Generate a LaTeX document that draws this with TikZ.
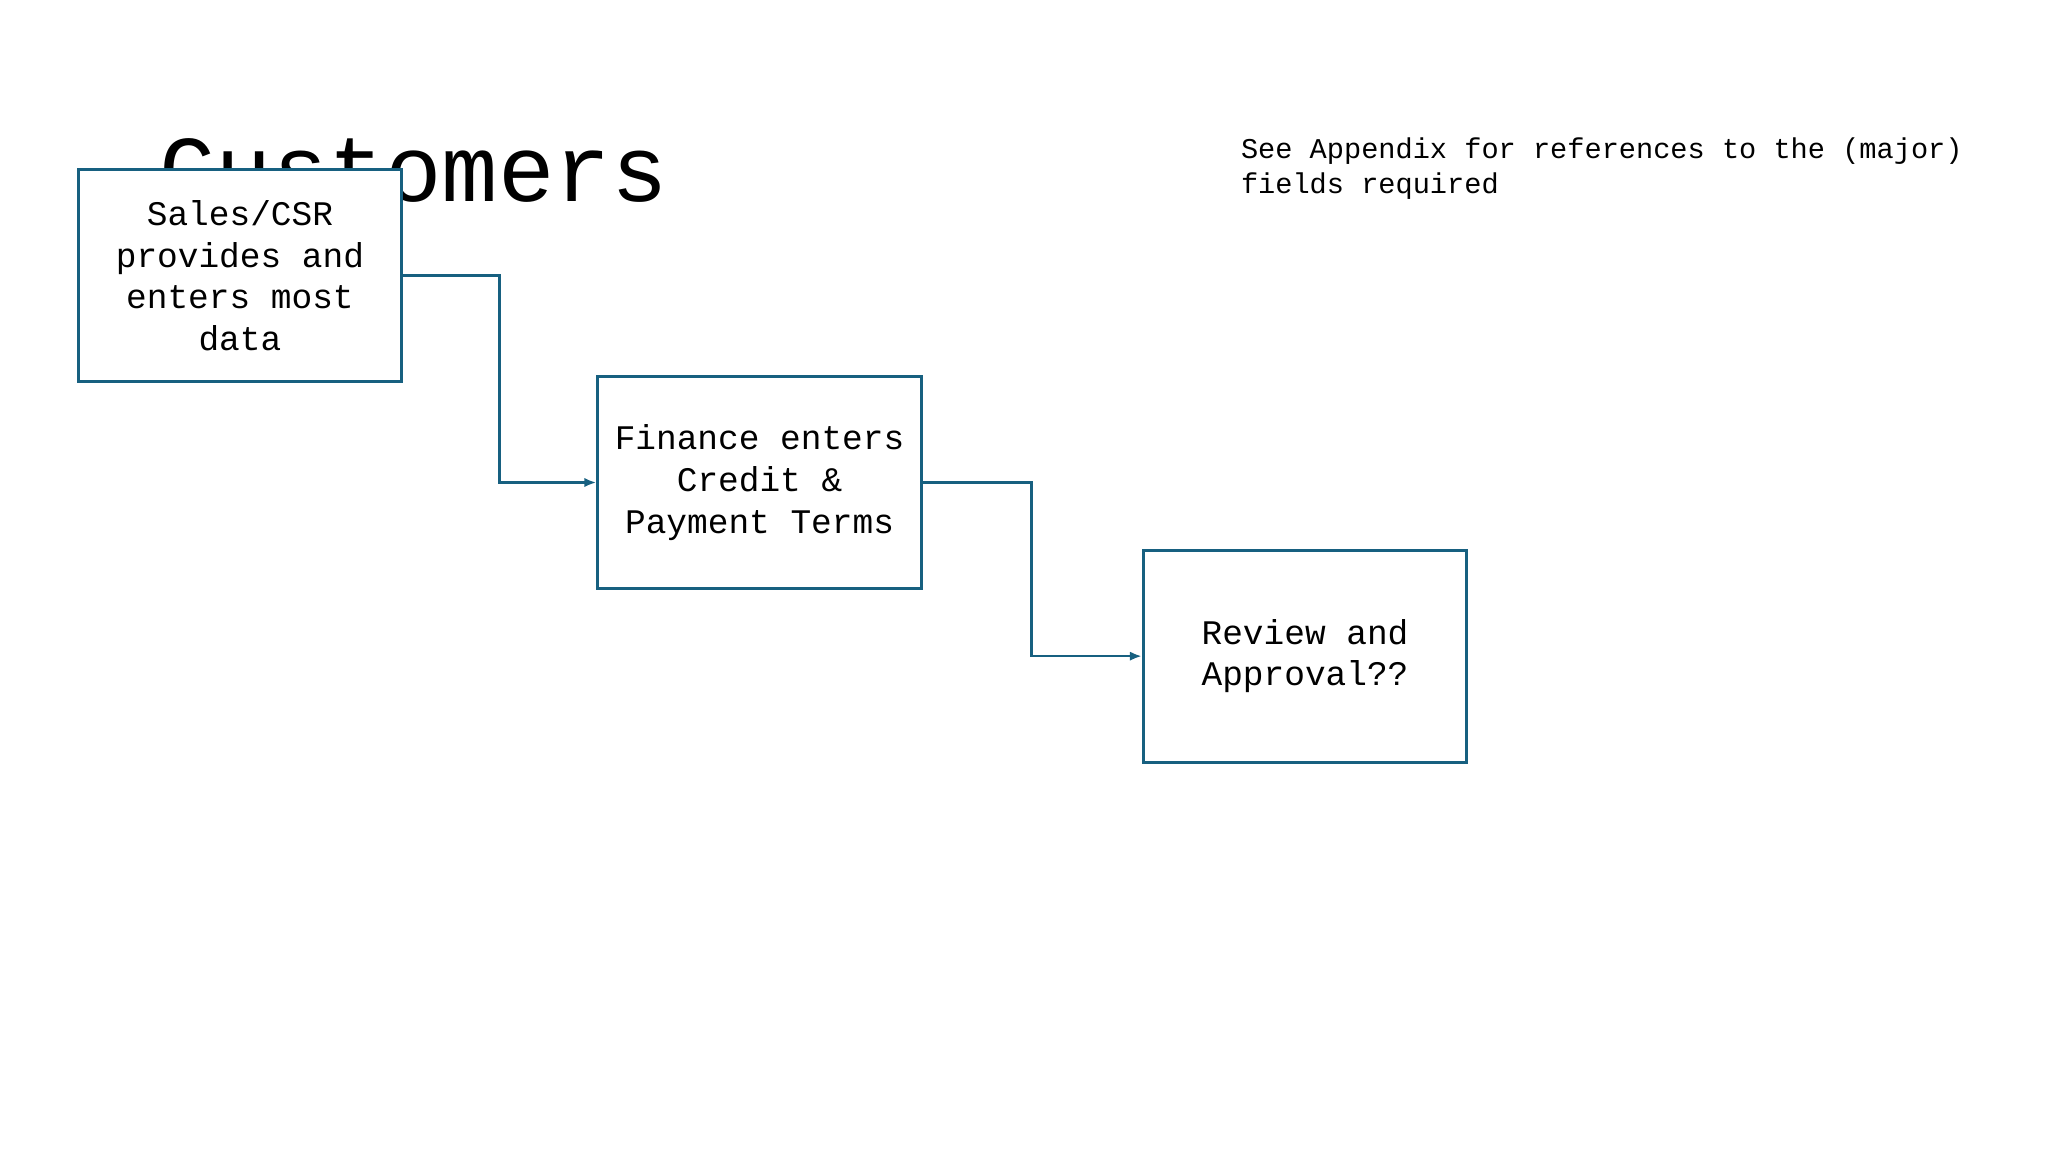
\documentclass[tikz,border=0pt]{standalone}
\usepackage{fontspec}
\setmonofont{Liberation Mono}
\definecolor{lc}{RGB}{23,96,128}
\tikzset{
  box/.style={draw=lc,line width=2.2pt,fill=white,minimum width=244pt,minimum height=160pt,inner sep=0pt,align=center,font=\ttfamily\fontsize{26}{31.5}\selectfont},
  conn/.style={draw=lc,line width=2pt,-{Latex[length=9pt,width=7pt]}}
}
\usetikzlibrary{arrows.meta}
\begin{document}
\begin{tikzpicture}[x=1pt,y=-1pt]
\useasboundingbox (0,0) rectangle (1545,869);
\node[anchor=base west,inner sep=0pt,font=\ttfamily\fontsize{71}{80}\selectfont] (title) at (120,152) {Customers};
\node[anchor=north west,inner sep=0pt,align=left,font=\ttfamily\fontsize{21.6}{26}\selectfont] (note) at (936,104) {See Appendix for references to the (major)\\fields required};
\node[box] (a) at (181,208) {Sales/CSR\\provides and\\enters most\\data};
\node[box] (b) at (573,364) {Finance enters\\Credit \&\\Payment Terms};
\node[box] (c) at (984.5,495) {Review and\\Approval??};
\draw[conn] (a.east) -- (377,208) |- (b.west);
\draw[conn] (b.east) -- (778,364) |- (c.west);
\end{tikzpicture}
\end{document}
